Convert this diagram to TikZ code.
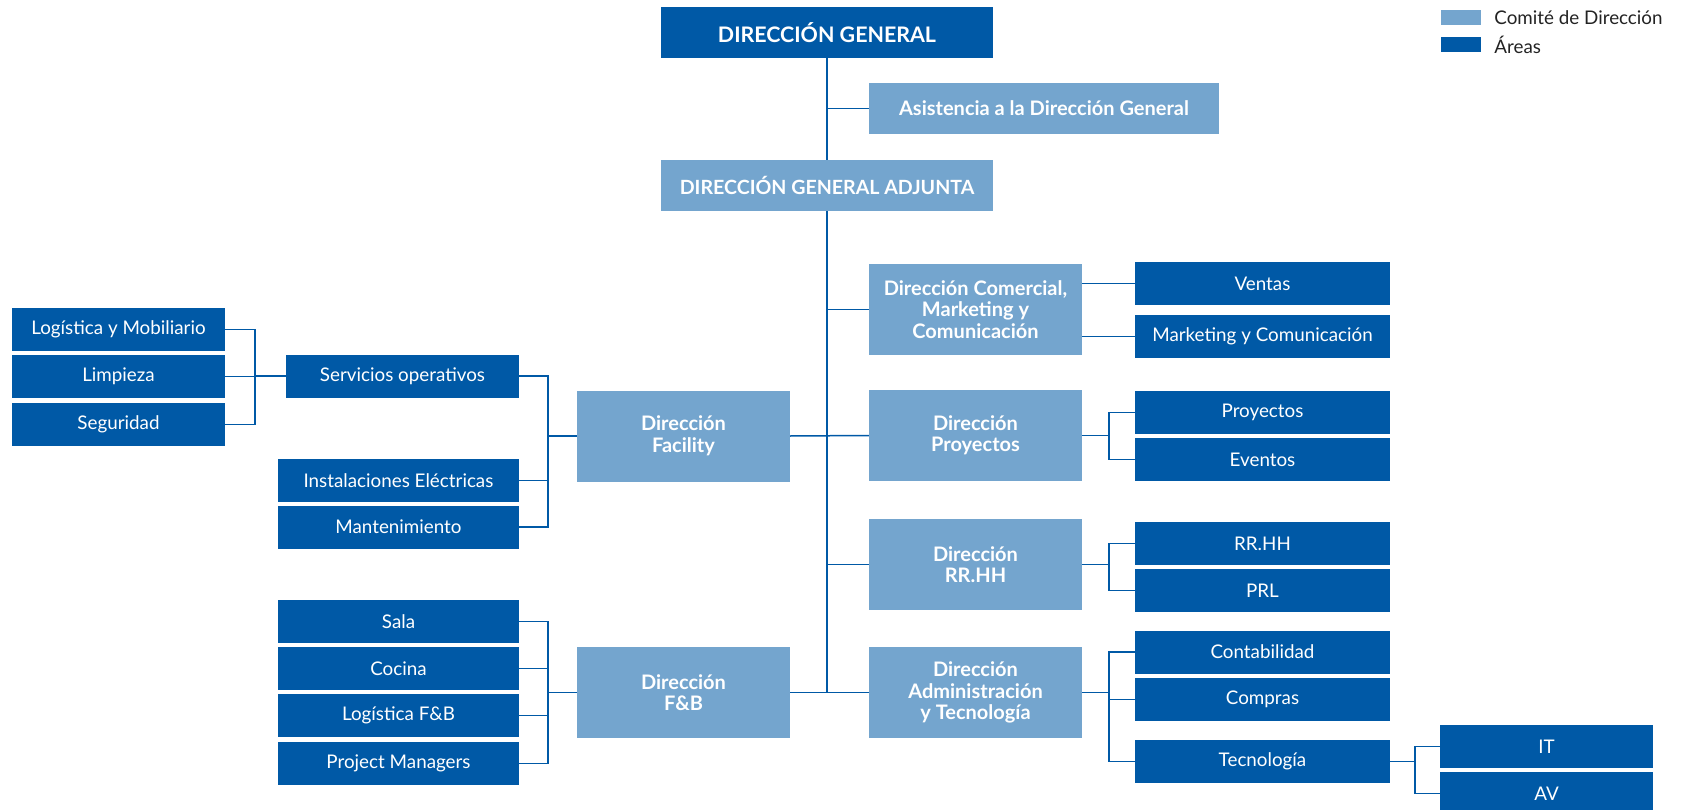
\documentclass[tikz,border=0pt]{standalone}
\usepackage{fontspec}
\setmainfont{Lato}
\usetikzlibrary{positioning}
\definecolor{areablue}{RGB}{0,89,166}
\definecolor{comiteblue}{RGB}{116,165,206}
\definecolor{legendtext}{RGB}{35,35,35}
\tikzset{
  area/.style={fill=areablue, text=white, minimum height=43pt, inner sep=0pt,
    font=\fontsize{18.8}{22}\selectfont},
  comite/.style={fill=comiteblue, text=white, minimum width=213pt, minimum height=91pt,
    inner sep=0pt, align=center, font=\bfseries\fontsize{20}{21.5}\selectfont},
  head/.style={text=white, minimum width=332pt, minimum height=51pt, inner sep=0pt,
    font=\bfseries\fontsize{21.4}{24}\selectfont},
  swatch/.style={minimum width=40pt, minimum height=15pt, inner sep=0pt},
  legend/.style={text=legendtext, inner sep=0pt, font=\fontsize{18.8}{22}\selectfont},
  link/.style={draw=areablue, line width=1.5pt}
}

\begin{document}
\begin{tikzpicture}[x=1pt, y=-1pt]
	\useasboundingbox (0,0) rectangle (1688,810);
	% legend
	\node[swatch, fill=comiteblue] (leycomite) at (1461,17.5) {};
	\node[swatch, fill=areablue] (leyarea) at (1461,44.5) {};
	\node[legend, right=13pt of leycomite] {Comité de Dirección};
	\node[legend, right=13pt of leyarea] {Áreas};
	% top
	\node[head, fill=areablue] (dg) at (827,32.5) {DIRECCIÓN GENERAL};
	\node[comite, minimum width=350pt, minimum height=51pt] (asist) at (1044,108.5) {Asistencia a la Dirección General};
	\node[head, fill=comiteblue, font=\bfseries\fontsize{19.6}{24}\selectfont] (dga) at (827,185.5) {DIRECCIÓN GENERAL ADJUNTA};
	% comite
	\node[comite] (dircom) at (975.5,309.5) {Dirección Comercial,\\Marketing y\\Comunicación};
	\node[comite] (dirpro) at (975.5,435.5) {Dirección\\Proyectos};
	\node[comite] (dirrh) at (975.5,564.5) {Dirección\\RR.HH};
	\node[comite] (diradm) at (975.5,692.5) {Dirección\\Administración\\y Tecnología};
	\node[comite] (fac) at (683.5,436) {Dirección\\Facility};
	\node[comite] (fb) at (683.5,692.5) {Dirección\\F\&B};
	% areas right
	\node[area, minimum width=255pt] (ventas) at (1262.5,283.5) {Ventas};
	\node[area, minimum width=255pt] (mkt) at (1262.5,336.5) {Marketing y Comunicación};
	\node[area, minimum width=255pt] (proy) at (1262.5,412.5) {Proyectos};
	\node[area, minimum width=255pt] (event) at (1262.5,459.5) {Eventos};
	\node[area, minimum width=255pt] (rrhh) at (1262.5,543.5) {RR.HH};
	\node[area, minimum width=255pt] (prl) at (1262.5,590.5) {PRL};
	\node[area, minimum width=255pt] (conta) at (1262.5,652) {Contabilidad};
	\node[area, minimum width=255pt] (compras) at (1262.5,699.5) {Compras};
	\node[area, minimum width=255pt] (tecno) at (1262.5,761.5) {Tecnología};
	\node[area, minimum width=213pt] (it) at (1546.5,746.5) {IT};
	\node[area, minimum width=213pt] (av) at (1546.5,793.5) {AV};
	% areas left
	\node[area, minimum width=233pt] (servop) at (402.5,376) {Servicios operativos};
	\node[area, minimum width=241pt] (inst) at (398.5,480.5) {Instalaciones Eléctricas};
	\node[area, minimum width=241pt] (mant) at (398.5,527) {Mantenimiento};
	\node[area, minimum width=213pt] (logmob) at (118.5,329.5) {Logística y Mobiliario};
	\node[area, minimum width=213pt] (limp) at (118.5,376.5) {Limpieza};
	\node[area, minimum width=213pt] (seg) at (118.5,424.5) {Seguridad};
	\node[area, minimum width=241pt] (sala) at (398.5,621.5) {Sala};
	\node[area, minimum width=241pt] (cocina) at (398.5,668.5) {Cocina};
	\node[area, minimum width=241pt] (logfb) at (398.5,715.5) {Logística F\&B};
	\node[area, minimum width=241pt] (pm) at (398.5,763.5) {Project Managers};
	% bracket columns
	\coordinate (jserv) at (255,0);
	\coordinate (jleft) at (548,0);
	\coordinate (jright) at (1109,0);
	\coordinate (jtecno) at (1415,0);
	\coordinate (trunkend) at (dga.south |- fb.east);
	% connectors
	\draw[link] (dg.south) -- (dga.north);
	\draw[link] (asist.west) -- (asist.west -| dg.south);
	\draw[link] (dga.south) -- (trunkend);
	\draw[link] (dircom.west) -- (dircom.west -| dga.south);
	\draw[link] (dirrh.west) -- (dirrh.west -| dga.south);
	\draw[link] (fac.east) -- (dirpro.west);
	\draw[link] (fb.east) -- (diradm.west);
	\draw[link] (dircom.east |- ventas.west) -- (ventas.west);
	\draw[link] (dircom.east |- mkt.west) -- (mkt.west);
	\foreach \n in {proy,event}
		\draw[link] (dirpro.east) -- (dirpro.east -| jright) |- (\n.west);
	\foreach \n in {rrhh,prl}
		\draw[link] (dirrh.east) -- (dirrh.east -| jright) |- (\n.west);
	\foreach \n in {conta,compras,tecno}
		\draw[link] (diradm.east) -- (diradm.east -| jright) |- (\n.west);
	\foreach \n in {it,av}
		\draw[link] (tecno.east) -- (tecno.east -| jtecno) |- (\n.west);
	\foreach \n in {servop,inst,mant}
		\draw[link] (fac.west) -- (fac.west -| jleft) |- (\n.east);
	\foreach \n in {sala,cocina,logfb,pm}
		\draw[link] (fb.west) -- (fb.west -| jleft) |- (\n.east);
	\foreach \n in {logmob,limp,seg}
		\draw[link] (servop.west) -- (servop.west -| jserv) |- (\n.east);
\end{tikzpicture}
\end{document}
